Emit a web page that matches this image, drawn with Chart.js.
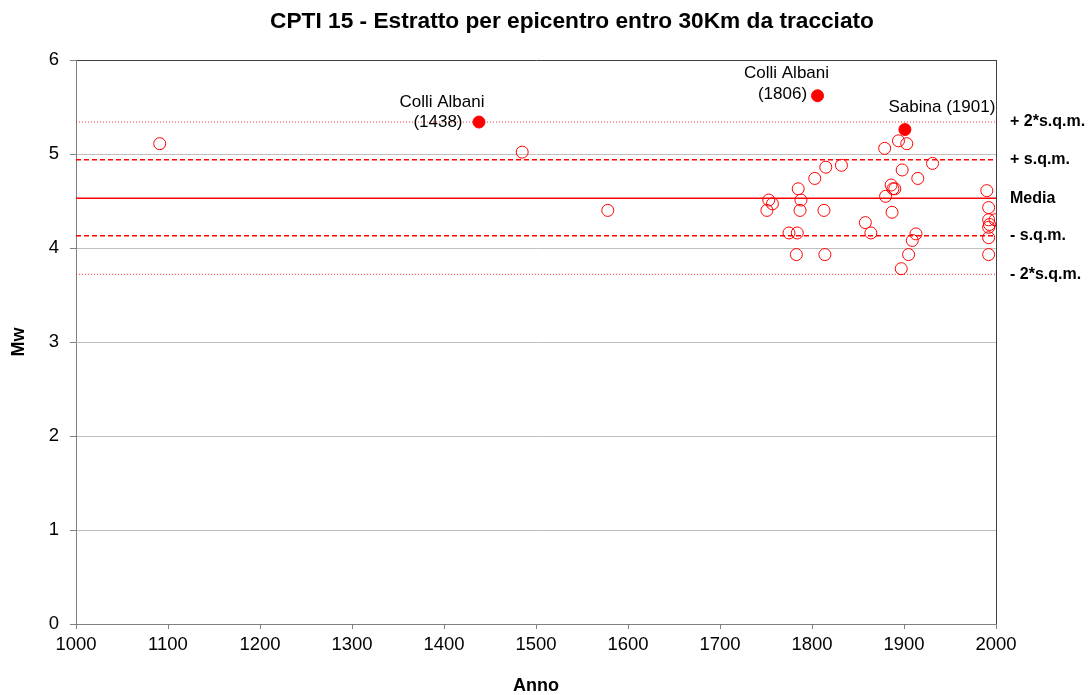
<!DOCTYPE html>
<html>
<head>
<meta charset="utf-8">
<script src="https://cdn.jsdelivr.net/npm/chart.js@4"></script>
<style>
  html, body { margin: 0; padding: 0; background: #fff; }
  #wrap { width: 1091px; height: 695px; }
</style>
</head>
<body>
<div id="wrap"><canvas id="scatter-chart" width="1091" height="695"></canvas></div>
<script>
// eventi minori (anno, Mw)
const anni = [1091, 1485, 1578, 1751, 1753, 1757, 1775, 1783, 1784, 1785, 1787, 1788,
  1803, 1813, 1814, 1815, 1832, 1858, 1864, 1879, 1880, 1886, 1887, 1888, 1890, 1894,
  1897, 1898, 1903, 1905, 1909, 1913, 1915, 1931, 1990, 1992, 1992, 1993, 1992, 1992,
  1992, 1999];
const mw = [5.11, 5.02, 4.40, 4.40, 4.51, 4.47, 4.16, 3.93, 4.16, 4.63, 4.40, 4.51,
  4.74, 4.40, 3.93, 4.86, 4.88, 4.27, 4.16, 5.06, 4.55, 4.67, 4.38, 4.63, 4.63, 5.14,
  3.78, 4.83, 5.11, 3.93, 4.08, 4.15, 4.74, 4.90, 4.61, 4.43, 4.30, 4.25, 4.22, 4.11,
  3.93, 4.30];

// eventi principali
const anniMax = [1438, 1806, 1901];
const mwMax = [5.34, 5.62, 5.26];
const nomiMax = [['Colli Albani', '(1438)'], ['Colli Albani', '(1806)'], ['Sabina (1901)']];

// linee statistiche
const statValori = [5.34, 4.94, 4.53, 4.13, 3.72];
const statNomi = ['+ 2*s.q.m.', '+ s.q.m.', 'Media', '- s.q.m.', '- 2*s.q.m.'];
const statDash = [[1, 2], [5, 3], [], [5, 3], [1, 2]];

const xTicks = [1000, 1100, 1200, 1300, 1400, 1500, 1600, 1700, 1800, 1900, 2000];
const yTicks = [0, 1, 2, 3, 4, 5, 6];

const FONT = "'Liberation Sans', Arial, sans-serif";
Chart.defaults.font.family = FONT;
Chart.defaults.color = '#000';

const statSets = statValori.map((v, i) => ({
  type: 'line',
  label: statNomi[i],
  data: [{ x: xTicks[0], y: v }, { x: xTicks[xTicks.length - 1], y: v }],
  borderColor: statDash[i][0] === 1 ? 'rgba(255,0,0,0.8)' : '#ff0000',
  borderWidth: statDash[i][0] === 1 ? 1 : 1.5,
  borderDash: statDash[i],
  pointRadius: 0,
  order: 5
}));

const extras = {
  id: 'extras',
  afterDraw(chart) {
    const ctx = chart.ctx;
    const xs = chart.scales.x, ys = chart.scales.y;
    const area = chart.chartArea;
    ctx.save();
    // bordo destro
    ctx.strokeStyle = '#404040';
    ctx.lineWidth = 1;
    ctx.beginPath();
    ctx.moveTo(area.right + 0.5, area.top);
    ctx.lineTo(area.right + 0.5, area.bottom);
    ctx.stroke();
    // titolo
    ctx.fillStyle = '#000';
    ctx.font = 'bold 22.7px ' + FONT;
    ctx.textAlign = 'center';
    ctx.textBaseline = 'middle';
    ctx.fillText('CPTI 15 - Estratto per epicentro entro 30Km da tracciato', 572, 22);
    // etichette linee
    ctx.font = 'bold 16px ' + FONT;
    ctx.textAlign = 'left';
    statValori.forEach((v, i) => {
      ctx.fillText(statNomi[i], area.right + 14, ys.getPixelForValue(v));
    });
    // etichette eventi
    ctx.font = '17px ' + FONT;
    ctx.textAlign = 'center';
    const offs = [[-37, -20, 0], [-31, -22, -1], [37, -22, 0]];
    anniMax.forEach((a, i) => {
      const px = xs.getPixelForValue(a), py = ys.getPixelForValue(mwMax[i]);
      const lines = nomiMax[i];
      if (lines.length === 2) {
        ctx.fillText(lines[0], px + offs[i][0], py + offs[i][1]);
        ctx.fillText(lines[1], px + offs[i][0] - 4, py + offs[i][2]);
      } else {
        ctx.fillText(lines[0], px + offs[i][0], py + offs[i][1]);
      }
    });
    ctx.restore();
  }
};

const config = {
  type: 'scatter',
  data: {
    datasets: [
      {
        label: 'Eventi',
        data: anni.map((a, i) => ({ x: a, y: mw[i] })),
        pointStyle: 'circle',
        pointRadius: 6,
        pointBackgroundColor: 'rgba(0,0,0,0)',
        pointBorderColor: '#ff0000',
        pointBorderWidth: 1,
        order: 1
      },
      {
        label: 'Eventi principali',
        data: anniMax.map((a, i) => ({ x: a, y: mwMax[i] })),
        pointRadius: 6,
        pointBackgroundColor: '#ff0000',
        pointBorderColor: '#ff0000',
        order: 0
      },
      ...statSets
    ]
  },
  options: {
    responsive: false,
    animation: false,
    layout: { padding: { top: 60, right: 95, left: 0, bottom: 0 } },
    plugins: {
      legend: { display: false },
      tooltip: { enabled: false },
      title: { display: false }
    },
    scales: {
      x: {
        type: 'linear',
        min: 1000,
        max: 2000,
        afterBuildTicks: s => { s.ticks = xTicks.map(v => ({ value: v })); },
        afterFit: s => { s.height = 71; },
        ticks: { font: { size: 18.5 }, padding: 5, color: '#000', maxRotation: 0,
          callback: v => String(v) },
        grid: {
          drawOnChartArea: false,
          tickLength: 5,
          tickColor: '#808080'
        },
        border: { color: '#808080', width: 1 },
        title: {
          display: true,
          text: 'Anno',
          font: { size: 18, weight: 'bold', lineHeight: 1 },
          padding: { top: 0, bottom: 0 }
        }
      },
      y: {
        min: 0,
        max: 6,
        afterBuildTicks: s => { s.ticks = yTicks.map(v => ({ value: v })); },
        afterFit: s => { s.width = 76; },
        ticks: { font: { size: 18.5 }, padding: 11, color: '#000', callback: v => String(v) },
        grid: {
          color: c => c.tick.value === 6 ? '#404040' : (c.tick.value === 0 ? '#808080' : '#c0c0c0'),
          tickLength: 6,
          tickColor: '#808080'
        },
        border: { color: '#808080', width: 1 },
        title: {
          display: true,
          text: 'Mw',
          font: { size: 18, weight: 'bold', lineHeight: 1 },
          padding: { top: 10, bottom: 0 }
        }
      }
    }
  },
  plugins: [extras]
};

const ctx = document.getElementById('scatter-chart').getContext('2d');
new Chart(ctx, config);
</script>
</body>
</html>
